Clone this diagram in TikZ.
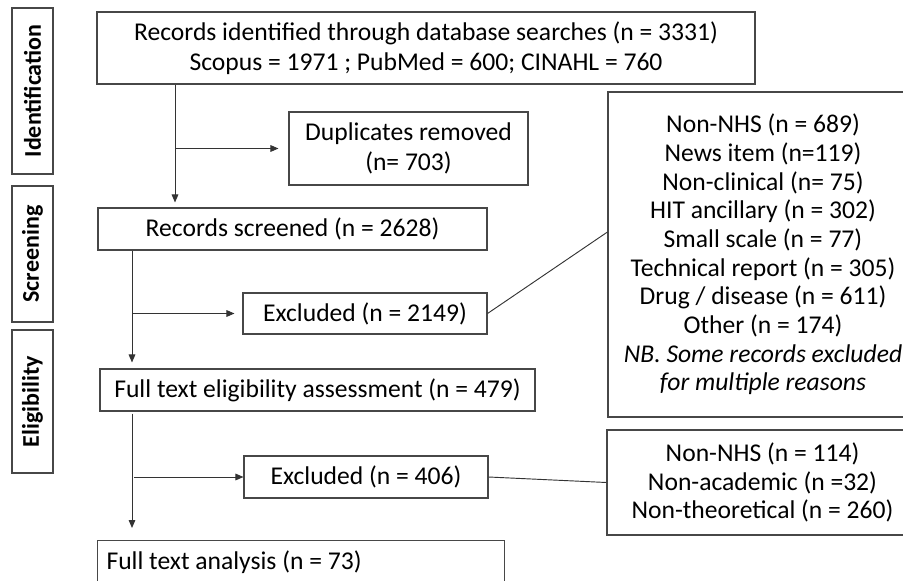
\documentclass[tikz,border=0pt]{standalone}
\usepackage{fontspec}
\setmainfont{Carlito}
\usetikzlibrary{arrows.meta,calc}
\newdimen\pxu \pxu=0.75pt
\begin{document}
\begin{tikzpicture}[x=0.75pt,y=-0.75pt,
  box/.style={draw=black!72, line width=0.8pt, inner sep=0pt, align=center,
    font=\fontsize{19.2pt}{21.5pt}\selectfont},
  phase/.style={draw=black!72, line width=0.8pt, inner sep=0pt, rotate=90,
    font=\bfseries\fontsize{18pt}{20pt}\selectfont},
  conn/.style={draw=black!80, line width=0.7pt},
  arr/.style={conn, -{Triangle[length=6pt,width=5pt]}}]
\useasboundingbox (0,0) rectangle (903,581);
\clip (0,0) rectangle (903,581);
% phase labels
\node[phase, minimum width=166*\pxu, minimum height=41*\pxu] (idlab) at (32.5,91) {Identification};
\node[phase, minimum width=136*\pxu, minimum height=41*\pxu] (scrlab) at (32.5,254) {Screening};
\node[phase, minimum width=143*\pxu, minimum height=41*\pxu] (elilab) at (32.5,401.5) {Eligibility};
% main boxes
\node[box, minimum width=658*\pxu, minimum height=72*\pxu,
  font=\fontsize{19.2pt}{22.5pt}\selectfont] (top) at (426,48)
  {Records identified through database searches (n = 3331)\\Scopus = 1971 ; PubMed = 600; CINAHL = 760};
\node[box, minimum width=239*\pxu, minimum height=73*\pxu,
  font=\fontsize{19.2pt}{22.5pt}\selectfont] (dup) at (408.5,148.5)
  {Duplicates removed\\(n= 703)};
\node[box, minimum width=389*\pxu, minimum height=42*\pxu] (scr) at (292.5,229)
  {Records screened (n = 2628)};
\node[box, minimum width=244*\pxu, minimum height=41*\pxu] (exc1) at (365,313.5)
  {Excluded (n = 2149)};
\node[box, minimum width=435*\pxu, minimum height=42*\pxu] (elig) at (317.5,390)
  {Full text eligibility assessment (n = 479)};
\node[box, minimum width=244*\pxu, minimum height=42*\pxu] (exc2) at (366,477)
  {Excluded (n = 406)};
\node[box, anchor=north west, minimum width=407*\pxu, minimum height=70*\pxu] (fta) at (97,540) {};
\node[box, draw=none, anchor=west] (ftatext) at (106,562) {Full text analysis (n = 73)};
% right boxes
\node[box, minimum width=310*\pxu, minimum height=325*\pxu] (big) at (763,254.5)
  {Non-NHS (n = 689)\\News item (n=119)\\Non-clinical (n= 75)\\HIT ancillary (n = 302)\\Small scale (n = 77)\\Technical report (n = 305)\\Drug / disease (n = 611)\\Other (n = 174)\\\textit{NB. Some records excluded}\\\textit{for multiple reasons}};
\node[box, minimum width=311*\pxu, minimum height=105*\pxu] (big2) at (762.5,482.5)
  {Non-NHS (n = 114)\\Non-academic (n =32)\\Non-theoretical (n = 260)};
% connectors
\draw[arr, shorten >=5*\pxu] (top.south -| 175,0) -- (scr.north -| 175,0);
\draw[arr, shorten >=10*\pxu] (dup.west -| 175,0) -- (dup.west);
\draw[arr, shorten >=6*\pxu] (scr.south -| 132,0) -- (elig.north -| 132,0);
\draw[arr, shorten >=8*\pxu] (exc1.west -| 132,0) -- (exc1.west);
\draw[arr, shorten <=2*\pxu, shorten >=12*\pxu] (elig.south -| 132,0) -- (fta.north -| 132,0);
\draw[arr, shorten >=0*\pxu] (exc2.west -| 134,0) -- (exc2.west);
\draw[conn] (exc1.east) -- (big.west |- 0,232);
\draw[conn] (exc2.east) -- (big2.west);
\end{tikzpicture}
\end{document}
